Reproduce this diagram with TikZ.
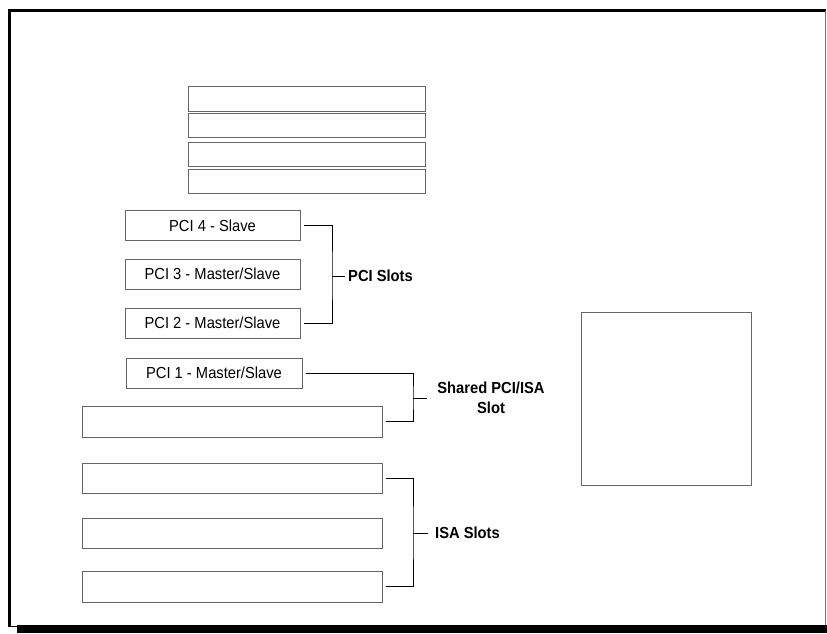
\documentclass[tikz,border=0pt]{standalone}
\usepackage{fontspec}
\setmainfont[FakeStretch=0.92]{Liberation Sans}
\begin{document}
\begin{tikzpicture}[x=1pt, y=-1pt, font=\fontsize{16}{20}\selectfont,
  slotbox/.style={draw=black!60, line width=0.8pt, rectangle, inner sep=0pt},
  brk/.style={line width=0.9pt, black},
  lbl/.style={font=\fontsize{16}{20}\selectfont\bfseries, inner sep=0pt}]
  \useasboundingbox (0,0) rectangle (827,633);
  % page frame and shadow
  \fill[black] (17,624.5) rectangle (827,633);
  \draw[line width=2.4pt] (9.5,627) -- (9.5,10.5) -- (826,10.5);
  \draw[black!55, line width=0.8pt] (825.5,11) -- (825.5,625);
  \draw[line width=0.8pt] (9.5,626.5) -- (18,626.5);
  % top boxes
  \foreach \yc/\hc [count=\i] in {98.5/25, 125/24, 154/24, 181/24}
    \node[slotbox, minimum width=237pt, minimum height=\hc pt] (top\i) at (306.5,\yc) {};
  % PCI slots
  \node[slotbox, minimum width=175pt, minimum height=30pt] (pci4) at (212.5,225.5) {PCI 4 - Slave};
  \node[slotbox, minimum width=175pt, minimum height=30pt] (pci3) at (212.5,274) {PCI 3 - Master/Slave};
  \node[slotbox, minimum width=175pt, minimum height=30pt] (pci2) at (212.5,323) {PCI 2 - Master/Slave};
  \node[slotbox, minimum width=176pt, minimum height=30pt] (pci1) at (214,373) {PCI 1 - Master/Slave};
  % shared and ISA slots
  \node[slotbox, minimum width=300pt, minimum height=31pt] (shared) at (232,421.5) {};
  \node[slotbox, minimum width=300pt, minimum height=30pt] (isa1) at (232,478) {};
  \node[slotbox, minimum width=300pt, minimum height=30pt] (isa2) at (232,533) {};
  \node[slotbox, minimum width=300pt, minimum height=31pt] (isa3) at (232,586.5) {};
  % processor socket
  \node[slotbox, minimum width=170pt, minimum height=173pt] (cpu) at (666,398.5) {};
  % labels
  \node[lbl, anchor=west] (pcilbl) at (348,276) {PCI Slots};
  \node[lbl, align=center] (sharedlbl) at (491,398) {Shared PCI/ISA\\Slot};
  \node[lbl, anchor=west] (isalbl) at (435,533) {ISA Slots};
  \coordinate (pcibr) at (332,276);
  \coordinate (sharedbr) at (413,398);
  \coordinate (isabr) at (413,533);
  % brackets
  \draw[brk] ([xshift=4pt]pci4.east) -| (pcibr) |- ([xshift=4pt]pci2.east);
  \draw[brk] (pcibr) -- ([xshift=-3pt]pcilbl.west);
  \draw[brk] ([xshift=4pt]pci1.east) -| (sharedbr) |- ([xshift=4pt]shared.east);
  \draw[brk] (sharedbr) -- (427,398);
  \draw[brk] ([xshift=4pt]isa1.east) -| (isabr) |- ([xshift=4pt]isa3.east);
  \draw[brk] (isabr) -- ([xshift=-7pt]isalbl.west);
\end{tikzpicture}
\end{document}
